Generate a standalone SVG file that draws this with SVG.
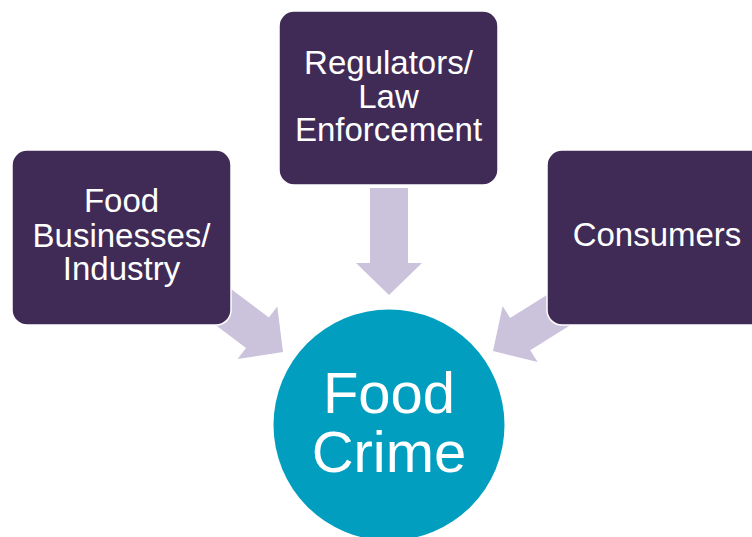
<svg xmlns="http://www.w3.org/2000/svg" xmlns:xlink="http://www.w3.org/1999/xlink" width="752" height="537" viewBox="0 0 752 537">
  <style>
    .box { fill: #402B57; stroke: #FFFFFF; stroke-width: 1.5; }
    .arrow { fill: #CBC2DC; }
    .hub { fill: #029EBF; }
    .lbl { font-family: "Liberation Sans", Arial, sans-serif; fill: #FFFFFF; text-anchor: middle; font-size: 33px; }
    .hub-lbl { font-family: "Liberation Sans", Arial, sans-serif; fill: #FFFFFF; text-anchor: middle; font-size: 58px; }
  </style>
  <defs>
    <!-- block arrow, tip at origin pointing along +x -->
    <polygon id="blockArrow" points="0,0 -32,-33 -32,-19 -107,-19 -107,19 -32,19 -32,33"/>
  </defs>
  <rect width="752" height="537" fill="#FFFFFF"/>

  <g id="connectors">
    <use xlink:href="#blockArrow" class="arrow" transform="translate(389,295) rotate(90)"/>
    <use xlink:href="#blockArrow" class="arrow" transform="translate(283,352) rotate(37)"/>
    <use xlink:href="#blockArrow" class="arrow" transform="translate(493,351) rotate(148)"/>
  </g>

  <g id="food-businesses">
    <rect class="box" x="12" y="150" width="219" height="175" rx="15" ry="15"/>
    <text class="lbl" x="121.5" y="212">Food</text>
    <text class="lbl" x="121.5" y="246.5">Businesses/</text>
    <text class="lbl" x="121.5" y="280">Industry</text>
  </g>

  <g id="regulators">
    <rect class="box" x="279" y="11" width="219" height="174" rx="15" ry="15"/>
    <text class="lbl" x="388.5" y="74">Regulators/</text>
    <text class="lbl" x="388.5" y="107.5">Law</text>
    <text class="lbl" x="388.5" y="141">Enforcement</text>
  </g>

  <g id="consumers">
    <rect class="box" x="547" y="150" width="219" height="175" rx="15" ry="15"/>
    <text class="lbl" x="657" y="245.5">Consumers</text>
  </g>

  <g id="food-crime">
    <circle class="hub" cx="389" cy="425" r="115.5"/>
    <text class="hub-lbl" x="389" y="413">Food</text>
    <text class="hub-lbl" x="389" y="472">Crime</text>
  </g>
</svg>
